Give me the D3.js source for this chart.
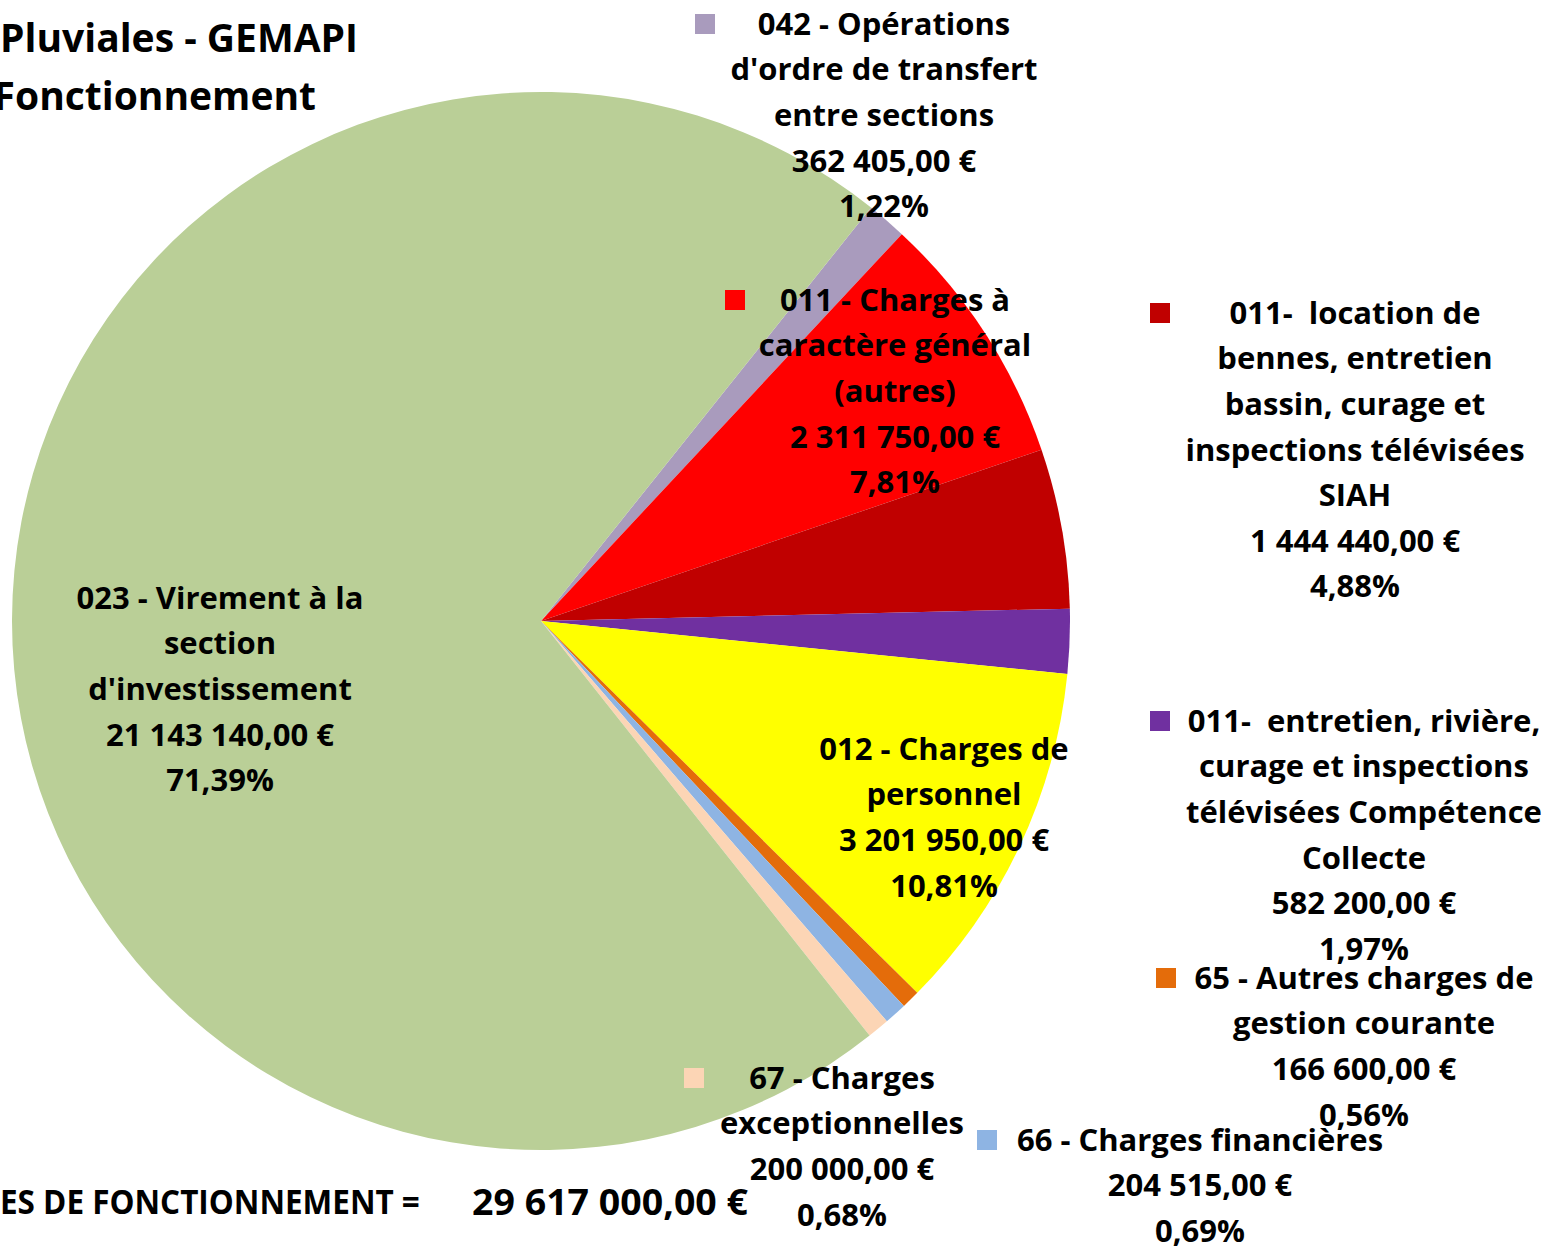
<!DOCTYPE html>
<html>
<head>
<meta charset="utf-8">
<script src="https://cdn.jsdelivr.net/npm/d3@7"></script>
<style>
  body { margin: 0; background: #fff; }
  svg { display: block; }
  text { font-family: "Open Sans", Lato, sans-serif; font-weight: 700; fill: #000; white-space: pre; }
</style>
</head>
<body>
<svg id="chart" width="1562" height="1250"></svg>
<script>
// slices, in clockwise order starting at the 042 slice
const categories = [
  "042 - Opérations d'ordre de transfert entre sections",
  "011 - Charges à caractère général (autres)",
  "011-  location de bennes, entretien bassin, curage et inspections télévisées SIAH",
  "011-  entretien, rivière, curage et inspections télévisées Compétence Collecte",
  "012 - Charges de personnel",
  "65 - Autres charges de gestion courante",
  "66 - Charges financières",
  "67 - Charges exceptionnelles",
  "023 - Virement à la section d'investissement"
];
const values = [362405, 2311750, 1444440, 582200, 3201950, 166600, 204515, 200000, 21143140];
const colors = ["#A99BBD", "#FF0000", "#C00000", "#7030A0", "#FFFF00", "#E46C0A", "#8EB4E3", "#FCD5B5", "#BACF97"];
// how each category name wraps in the data labels
const labelLines = [
  ["042 - Opérations", "d'ordre de transfert", "entre sections"],
  ["011 - Charges à", "caractère général", "(autres)"],
  ["011-  location de", "bennes, entretien", "bassin, curage et", "inspections télévisées", "SIAH"],
  ["011-  entretien, rivière,", "curage et inspections", "télévisées Compétence", "Collecte"],
  ["012 - Charges de", "personnel"],
  ["65 - Autres charges de", "gestion courante"],
  ["66 - Charges financières"],
  ["67 - Charges", "exceptionnelles"],
  ["023 - Virement à la", "section", "d'investissement"]
];
const titleLines = ["Pluviales - GEMAPI", "Fonctionnement"];
const totalLabel = "ES DE FONCTIONNEMENT =";

// label placement (centre x, first line centre y, legend key left x or null)
const labelPos = [
  { x: 884, y: 24, key: 695 },
  { x: 895, y: 300, key: 725 },
  { x: 1355, y: 313, key: 1150 },
  { x: 1364, y: 721, key: 1150 },
  { x: 944, y: 749, key: null },
  { x: 1364, y: 978, key: 1156 },
  { x: 1200, y: 1140, key: 977 },
  { x: 842, y: 1078, key: 684 },
  { x: 220, y: 598, key: null }
];

const fr = d3.formatLocale({ decimal: ",", thousands: "\u00a0", grouping: [3], currency: ["", "\u00a0€"] });
const fmtEuro = fr.format("$,.2f");
const fmtPct = fr.format(".2f");

const svg = d3.select("#chart");
const cx = 541, cy = 621, r = 529;
const lineH = 45.6, fs = 31;
const total = d3.sum(values);

const start = 38.6 * Math.PI / 180;
const pie = d3.pie().sort(null).value(d => d).startAngle(start).endAngle(start + 2 * Math.PI);
const arc = d3.arc().innerRadius(0).outerRadius(r);
const arcs = pie(values);

const g = svg.append("g").attr("transform", `translate(${cx},${cy})`);
g.selectAll("path").data(arcs).join("path")
  .attr("d", arc)
  .attr("fill", (d, i) => colors[i]);

// data labels
const labels = svg.append("g");
arcs.forEach((a, i) => {
  const p = labelPos[i];
  const lines = labelLines[i].concat([fmtEuro(values[i]), fmtPct(values[i] / total * 100) + "%"]);
  const t = labels.append("text")
    .attr("text-anchor", "middle")
    .attr("font-size", fs);
  lines.forEach((s, j) => {
    t.append("tspan").attr("x", p.x).attr("y", p.y + j * lineH).attr("dy", "0.35em").text(s);
  });
  if (p.key !== null) {
    labels.append("rect")
      .attr("x", p.key).attr("y", p.y - 10)
      .attr("width", 20).attr("height", 20)
      .attr("fill", colors[i]);
  }
});

// squeeze a text horizontally so it spans the given width
function fitWidth(sel, x, y, w, anchorEnd) {
  const len = sel.node().getComputedTextLength();
  const k = w / len;
  sel.attr("transform", `translate(${x},${y}) scale(${k},1)`);
  if (anchorEnd) sel.attr("text-anchor", "end");
}

// title (cut at the left edge in the original)
svg.append("text").attr("x", 358).attr("y", 38).attr("dy", "0.35em")
  .attr("text-anchor", "end").attr("font-size", 39).text(titleLines[0]);
svg.append("text").attr("x", 316).attr("y", 96).attr("dy", "0.35em")
  .attr("text-anchor", "end").attr("font-size", 39).text(titleLines[1]);

// total line, condensed
const tl = svg.append("text").attr("dy", "0.35em").attr("font-size", 34).text(totalLabel);
fitWidth(tl, 0, 1202, 420, false);
const tv = svg.append("text").attr("dy", "0.35em").attr("font-size", 36).text(fmtEuro(total));
fitWidth(tv, 748, 1202, 276, true);
</script>
</body>
</html>
